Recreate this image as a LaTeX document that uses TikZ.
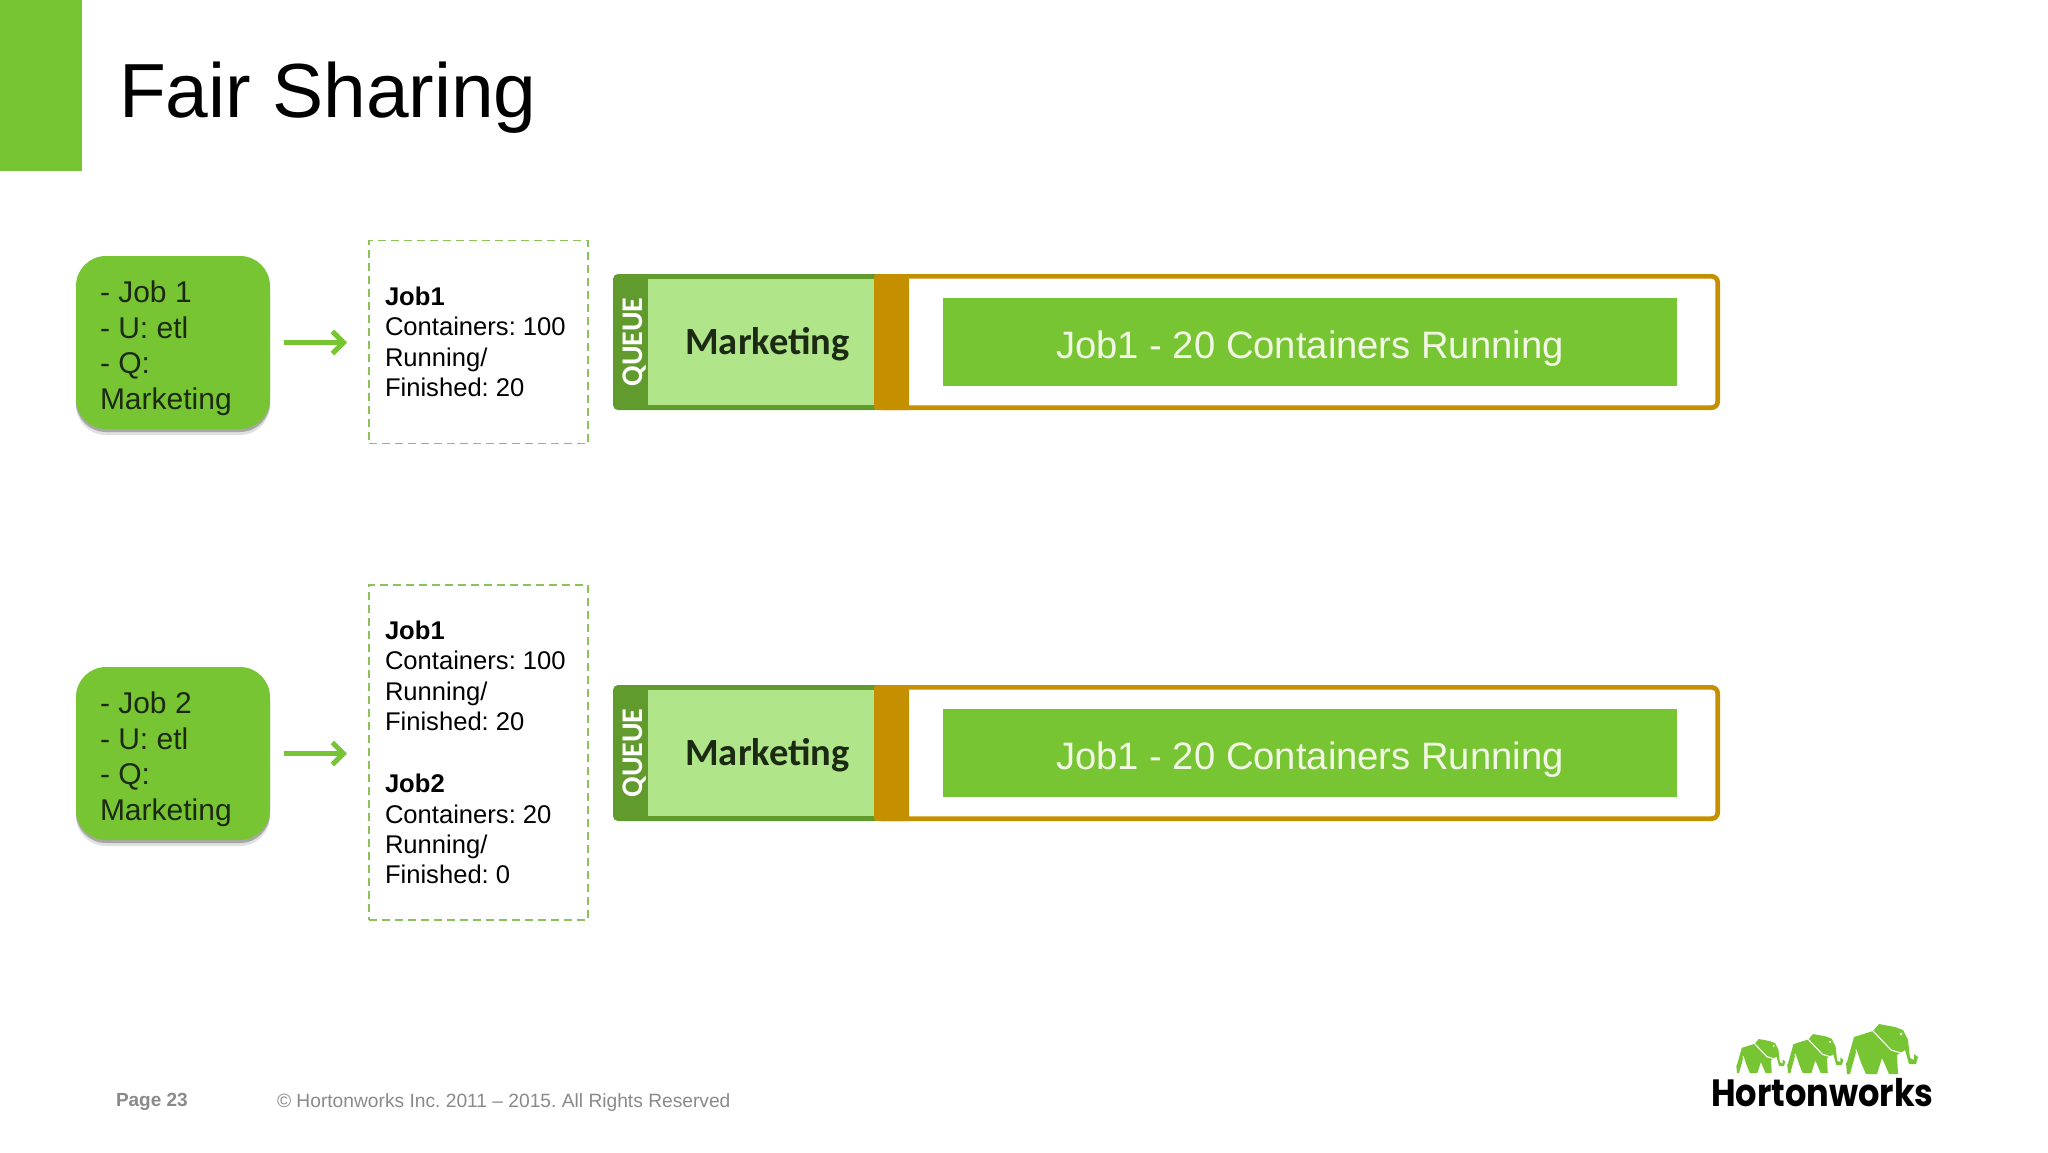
\documentclass[tikz,border=0pt]{standalone}
\usepackage{fontspec}
\setmainfont{Liberation Sans}
\newfontfamily\carlito{Carlito}
\newfontfamily\poppins[FakeStretch=0.885]{Poppins}
\usetikzlibrary{arrows.meta,shadows}
\definecolor{hwgreen}{HTML}{78C534}
\definecolor{hwdark}{HTML}{619A2D}
\definecolor{hwlight}{HTML}{B1E58A}
\definecolor{hwgold}{HTML}{C49000}
\definecolor{hwdash}{HTML}{8DC15A}
\definecolor{hwgrey}{HTML}{8A8A8A}
\definecolor{hwtext}{HTML}{1C2A14}
\definecolor{hwjob}{HTML}{F1F7E4}
\newcommand{\fs}[2]{\fontsize{#1pt}{#2pt}\selectfont}
\frenchspacing
\tikzset{
  every node/.style={inner sep=0pt,outer sep=0pt},
  sized/.style n args={2}{minimum width=#1pt,minimum height=#2pt},
  jobbox/.style={fill=hwgreen,rounded corners=30pt,
    drop shadow={shadow xshift=0pt,shadow yshift=-6pt,opacity=.12,fill=black},
    drop shadow={shadow xshift=0pt,shadow yshift=-3pt,opacity=.25,fill=black}},
  jobtext/.style={anchor=north west,align=left,text=hwtext,font=\frenchspacing\fs{30}{35.6}},
  dashbox/.style={draw=hwdash,line width=1.8pt,dash pattern=on 8pt off 5pt},
  dashtext/.style={anchor=north west,align=left,text=black,font=\frenchspacing\fs{25.6}{30.4}},
  flow/.style={draw=hwgreen,line width=4.5pt,-{Straight Barb[length=11pt,width=22pt,line width=5pt]},shorten <=14pt,shorten >=22pt},
  queuebar/.style={fill=hwdark,rounded corners=5pt},
  queuefill/.style={fill=hwlight},
  goldframe/.style={draw=hwgold,line width=4.7pt,fill=white,rounded corners=6pt},
  goldcap/.style={fill=hwgold,rounded corners=3pt},
  runbar/.style={fill=hwgreen,text=hwjob,text height=32pt,text depth=0pt,font=\frenchspacing\fs{38.2}{44}},
  foot/.style={anchor=base west,text=hwgrey},
  logopart/.style={fill=hwgreen,draw=none},
  logocut/.style={draw=white,line width=1.1pt,line join=round,line cap=round}
}
% one queue row; #1 name prefix, #2 vertical offset
\newcommand{\queuerow}[2]{%
  \node[queuebar,sized={267}{136},anchor=north west] (#1bar) at (613,274+#2) {};
  \node[queuefill,sized={226}{126},anchor=north west] (#1fill) at (648,279+#2) {};
  \node[anchor=center,rotate=90,text=white,font=\carlito\bfseries\fs{30}{32}] (#1label) at (635,342+#2) {QUEUE};
  \node[goldframe,sized={841.3}{131.3},anchor=north west] (#1frame) at (876.35,276.35+#2) {};
  \node[goldcap,sized={35}{136},anchor=north west] (#1cap) at (874,274+#2) {};
  \node[anchor=base,text=hwtext,font=\carlito\bfseries\fs{38.5}{40}] (#1name) at (767.5,354+#2) {Marketing};
  \node[runbar,sized={734}{88},anchor=north west] (#1run) at (943,298+#2) {Job1 - 20 Containers Running};
}
% elephant, drawn from its lower left corner
\newcommand{\elephant}[3]{%
  \begin{scope}[shift={(#1,#2)},scale=#3]
    \fill[logopart] (-1,-11) -- (0,-12) -- (7,-37) -- (26,-43) -- (32,-50) -- (48,-47) -- (56,-44) -- (61,-34) -- (63,-16) -- (67,-14) -- (67,-20) -- (71,-17) -- (69,-10) -- (62,-10) -- (58,-24) -- (50,-19) -- (51,0) -- (42,0) -- (35,-16) -- (30,0) -- (19,0) -- (9,-22) -- (3,0) -- (0,0) -- cycle;
    \draw[logocut] (26,-43) -- (44,-24) -- (54,-21);
    \draw[logocut] (9,-24) -- (17,0);
    \fill[white] (54,-40) circle (1.4);
  \end{scope}}
\begin{document}
\begin{tikzpicture}[x=1pt,y=-1pt]
  \useasboundingbox (0,0) rectangle (2048,1153);
  \fill[white] (0,0) rectangle (2048,1153);
  \fill[hwgreen] (0,0) rectangle (82,171);
  \node[anchor=base west,font=\fs{76.7}{90},text=black] (title) at (119,118) {Fair Sharing};

  % first row
  \node[jobbox,sized={194}{173},anchor=north west] (job1) at (76,256) {};
  \node[jobtext] (job1text) at (100,281) {- Job 1\\- U: etl\\- Q:\\Marketing};
  \node[dashbox,sized={219}{203},anchor=north west] (list1) at (369,240.5) {};
  \node[dashtext] (list1text) at (385,287) {\textbf{Job1}\\Containers: 100\\Running/\\Finished: 20};
  \draw[flow] (job1.east) -- (job1.east -| list1.west);
  \queuerow{a}{0}

  % second row
  \node[jobbox,sized={194}{173},anchor=north west] (job2) at (76,667) {};
  \node[jobtext] (job2text) at (100,692) {- Job 2\\- U: etl\\- Q:\\Marketing};
  \node[dashbox,sized={219}{335},anchor=north west] (list2) at (369,585) {};
  \node[dashtext] (list2text) at (385,621) {\textbf{Job1}\\Containers: 100\\Running/\\Finished: 20\\[31.5pt]\textbf{Job2}\\Containers: 20\\Running/\\Finished: 0};
  \draw[flow] (job2.east) -- (job2.east -| list2.west);
  \queuerow{b}{411}

  % footer
  \node[foot,font=\frenchspacing\bfseries\fs{19}{22}] (page) at (116,1106) {Page 23};
  \node[foot,font=\frenchspacing\fs{19.2}{22}] (copy) at (277,1107) {© Hortonworks Inc. 2011 – 2015. All Rights Reserved};

  % logo
  \elephant{1737}{1073}{0.68}
  \elephant{1788}{1073}{0.78}
  \elephant{1847}{1074}{1}
  \node[anchor=base west,text=black,font=\poppins\bfseries\fs{38}{40}] (logo) at (1711,1106) {Hortonworks};
\end{tikzpicture}
\end{document}
